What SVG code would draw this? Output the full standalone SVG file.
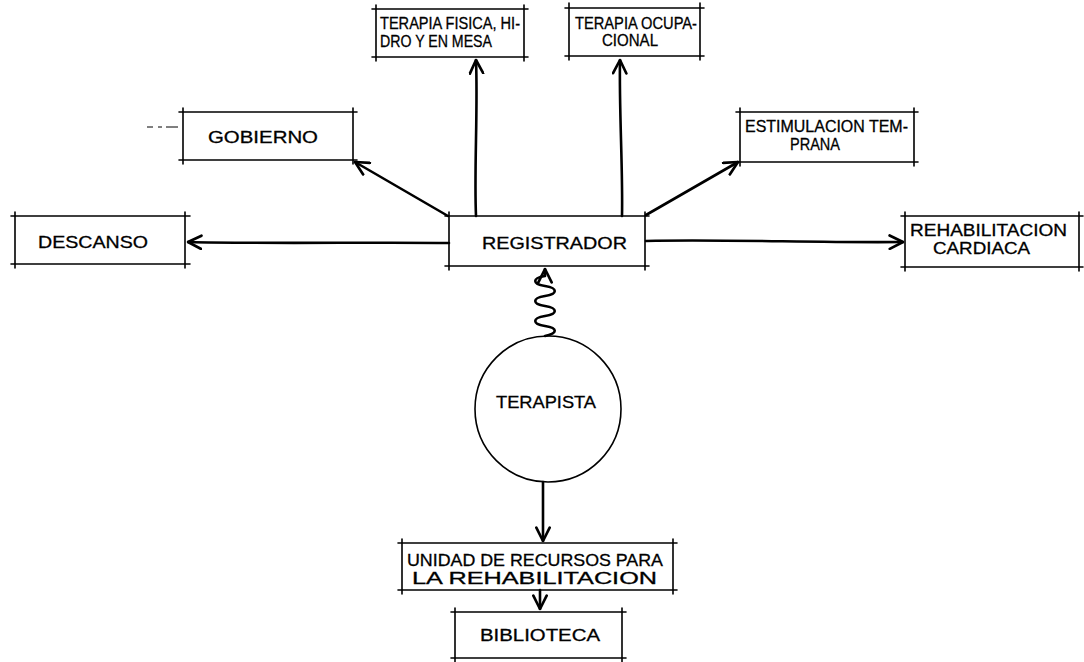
<svg xmlns="http://www.w3.org/2000/svg" width="1084" height="662" viewBox="0 0 1084 662">
<defs>
<marker id="ah" viewBox="0 0 12 12" refX="11" refY="6" markerWidth="16" markerHeight="16" markerUnits="userSpaceOnUse" orient="auto">
<path d="M1,1 L11,6 L1,11" fill="none" stroke="#000" stroke-width="2" stroke-linecap="round" stroke-linejoin="round"/>
</marker>
</defs>
<style>
.bx{fill:none;stroke:#000;stroke-width:1.6;stroke-linecap:round}
.t{font-family:"Liberation Sans",Arial,sans-serif;font-size:17px;fill:#000;stroke:#000;stroke-width:0.3}
.c{stroke:#000;stroke-width:2.6;fill:none;stroke-linecap:round;stroke-linejoin:round}
</style>
<rect width="1084" height="662" fill="#fff"/>

<g id="connectors">
<path class="c" d="M476,216 C474,170 478,110 476,60" marker-end="url(#ah)"/>
<path class="c" d="M622,216 C623,170 619,110 620,60" marker-end="url(#ah)"/>
<path class="c" d="M448,216 L355,162" marker-end="url(#ah)"/>
<path class="c" d="M646,215 L738,162" marker-end="url(#ah)"/>
<path class="c" d="M449,243 C380,242 260,244 188,242" marker-end="url(#ah)"/>
<path class="c" d="M646,241 C720,239 820,243 903,242" marker-end="url(#ah)"/>
<path class="c" d="M545,336 C558,333 558,328 545,326 C532,324 532,318 545,316 C558,314 558,308 545,306 C532,304 532,298 545,296 C558,294 558,288 545,286 C532,284 532,278 545,276 L545,269" marker-end="url(#ah)"/>
<path class="c" d="M543,482 L543,541" marker-end="url(#ah)"/>
<path class="c" d="M540,590 L540,609" marker-end="url(#ah)"/>
<path d="M147,127 L153,127 M158,127 L162,127 M166,127 L178,127" stroke="#000" stroke-width="1" fill="none"/>
</g>

<g id="terapia-fisica">
<path class="bx" d="M372,9 L528,9 M372,57 L528,57 M376,5 L376,61 M524,5 L524,61"/>
<text class="t" x="380" y="29" textLength="140" lengthAdjust="spacingAndGlyphs">TERAPIA FISICA, HI-</text>
<text class="t" x="380" y="47" textLength="112" lengthAdjust="spacingAndGlyphs">DRO Y EN MESA</text>
</g>

<g id="terapia-ocupacional">
<path class="bx" d="M565,8 L704,8 M565,56 L704,56 M569,3 L569,60 M700,3 L700,60"/>
<text class="t" x="575" y="29" textLength="122" lengthAdjust="spacingAndGlyphs">TERAPIA OCUPA-</text>
<text class="t" x="602" y="46" textLength="56" lengthAdjust="spacingAndGlyphs">CIONAL</text>
</g>

<g id="gobierno">
<path class="bx" d="M179,112 L357,112 M179,160 L357,160 M183,108 L183,164 M353,108 L353,164"/>
<text class="t" x="208" y="143" textLength="110" lengthAdjust="spacingAndGlyphs">GOBIERNO</text>
</g>

<g id="estimulacion">
<path class="bx" d="M736,112 L918,112 M736,162 L918,162 M740,108 L740,166 M914,108 L914,166"/>
<text class="t" x="745" y="132" textLength="163" lengthAdjust="spacingAndGlyphs">ESTIMULACION TEM-</text>
<text class="t" x="790" y="150" textLength="50" lengthAdjust="spacingAndGlyphs">PRANA</text>
</g>

<g id="descanso">
<path class="bx" d="M11,216 L190,216 M11,264 L190,264 M15,212 L15,268 M185,212 L185,268"/>
<text class="t" x="38" y="248" textLength="110" lengthAdjust="spacingAndGlyphs">DESCANSO</text>
</g>

<g id="registrador">
<path class="bx" d="M445,216 L649,216 M445,266 L649,266 M449,212 L449,270 M645,212 L645,270"/>
<text class="t" x="482" y="249" textLength="145" lengthAdjust="spacingAndGlyphs">REGISTRADOR</text>
</g>

<g id="rehabilitacion-cardiaca">
<path class="bx" d="M901,216 L1083,216 M901,267 L1083,267 M905,212 L905,271 M1079,212 L1079,271"/>
<text class="t" x="910" y="236" textLength="157" lengthAdjust="spacingAndGlyphs">REHABILITACION</text>
<text class="t" x="933" y="254" textLength="97" lengthAdjust="spacingAndGlyphs">CARDIACA</text>
</g>

<g id="terapista">
<circle cx="548" cy="409" r="73" fill="none" stroke="#000" stroke-width="1.6"/>
<text class="t" x="496" y="408" textLength="100" lengthAdjust="spacingAndGlyphs">TERAPISTA</text>
</g>

<g id="unidad">
<path class="bx" d="M398,543 L677,543 M398,590 L677,590 M402,539 L402,594 M673,539 L673,594"/>
<text class="t" x="407" y="566" textLength="256" lengthAdjust="spacingAndGlyphs">UNIDAD DE RECURSOS PARA</text>
<text class="t" x="412" y="584" textLength="245" lengthAdjust="spacingAndGlyphs">LA   REHABILITACION</text>
</g>

<g id="biblioteca">
<path class="bx" d="M451,612 L626,612 M451,658 L626,658 M455,608 L455,662 M622,608 L622,662"/>
<text class="t" x="480" y="641" textLength="120" lengthAdjust="spacingAndGlyphs">BIBLIOTECA</text>
</g>
</svg>
